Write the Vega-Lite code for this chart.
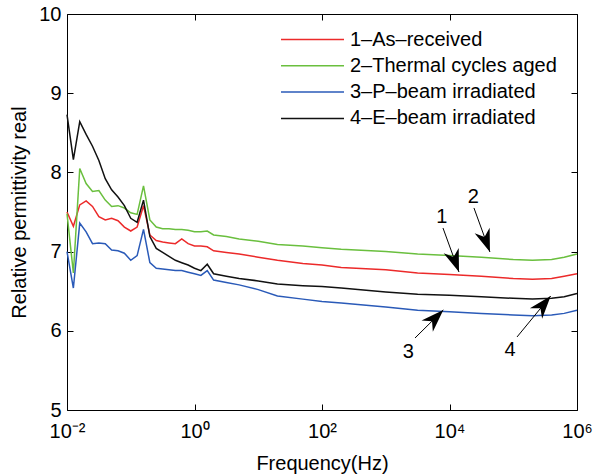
{
  "$schema": "https://vega.github.io/schema/vega-lite/v6.json",
  "width": 510,
  "height": 396,
  "autosize": "none",
  "padding": {"left": 67, "top": 14, "right": 16, "bottom": 65},
  "background": "white",
  "config": {
    "font": "Liberation Sans",
    "view": {"stroke": "#000", "strokeWidth": 1},
    "axis": {"grid": false, "domain": false, "tickColor": "#000", "tickWidth": 1, "labelColor": "#000", "titleColor": "#000", "labelFontSize": 20, "titleFontSize": 20, "titleFontWeight": "normal", "labelFlush": false, "labelOverlap": false}
  },
  "datasets": {
    "curves": [
      {"f": 0.01, "1–As–received": 7.50, "2–Thermal cycles aged": 7.48, "3–P–beam irradiated": 7.00, "4–E–beam irradiated": 8.73},
      {"f": 0.01259, "1–As–received": 7.32, "2–Thermal cycles aged": 6.73, "3–P–beam irradiated": 6.54, "4–E–beam irradiated": 8.16},
      {"f": 0.01585, "1–As–received": 7.59, "2–Thermal cycles aged": 8.05, "3–P–beam irradiated": 7.36, "4–E–beam irradiated": 8.64},
      {"f": 0.01995, "1–As–received": 7.64, "2–Thermal cycles aged": 7.86, "3–P–beam irradiated": 7.25, "4–E–beam irradiated": 8.48},
      {"f": 0.02512, "1–As–received": 7.57, "2–Thermal cycles aged": 7.76, "3–P–beam irradiated": 7.10, "4–E–beam irradiated": 8.33},
      {"f": 0.03162, "1–As–received": 7.44, "2–Thermal cycles aged": 7.77, "3–P–beam irradiated": 7.11, "4–E–beam irradiated": 8.15},
      {"f": 0.03981, "1–As–received": 7.40, "2–Thermal cycles aged": 7.65, "3–P–beam irradiated": 7.10, "4–E–beam irradiated": 7.92},
      {"f": 0.05012, "1–As–received": 7.42, "2–Thermal cycles aged": 7.57, "3–P–beam irradiated": 7.02, "4–E–beam irradiated": 7.78},
      {"f": 0.0631, "1–As–received": 7.39, "2–Thermal cycles aged": 7.58, "3–P–beam irradiated": 7.01, "4–E–beam irradiated": 7.69},
      {"f": 0.07943, "1–As–received": 7.31, "2–Thermal cycles aged": 7.55, "3–P–beam irradiated": 6.98, "4–E–beam irradiated": 7.58},
      {"f": 0.1, "1–As–received": 7.26, "2–Thermal cycles aged": 7.49, "3–P–beam irradiated": 6.89, "4–E–beam irradiated": 7.42},
      {"f": 0.1259, "1–As–received": 7.31, "2–Thermal cycles aged": 7.47, "3–P–beam irradiated": 6.95, "4–E–beam irradiated": 7.37},
      {"f": 0.1585, "1–As–received": 7.58, "2–Thermal cycles aged": 7.83, "3–P–beam irradiated": 7.28, "4–E–beam irradiated": 7.65},
      {"f": 0.1995, "1–As–received": 7.21, "2–Thermal cycles aged": 7.40, "3–P–beam irradiated": 6.86, "4–E–beam irradiated": 7.19},
      {"f": 0.2512, "1–As–received": 7.14, "2–Thermal cycles aged": 7.31, "3–P–beam irradiated": 6.79, "4–E–beam irradiated": 7.04},
      {"f": 0.3162, "1–As–received": 7.12, "2–Thermal cycles aged": 7.29, "3–P–beam irradiated": 6.78, "4–E–beam irradiated": 6.99},
      {"f": 0.3981, "1–As–received": 7.11, "2–Thermal cycles aged": 7.29, "3–P–beam irradiated": 6.77, "4–E–beam irradiated": 6.94},
      {"f": 0.5012, "1–As–received": 7.10, "2–Thermal cycles aged": 7.28, "3–P–beam irradiated": 6.76, "4–E–beam irradiated": 6.89},
      {"f": 0.631, "1–As–received": 7.16, "2–Thermal cycles aged": 7.28, "3–P–beam irradiated": 6.76, "4–E–beam irradiated": 6.86},
      {"f": 0.7943, "1–As–received": 7.10, "2–Thermal cycles aged": 7.27, "3–P–beam irradiated": 6.74, "4–E–beam irradiated": 6.83},
      {"f": 1, "1–As–received": 7.07, "2–Thermal cycles aged": 7.25, "3–P–beam irradiated": 6.72, "4–E–beam irradiated": 6.79},
      {"f": 1.259, "1–As–received": 7.07, "2–Thermal cycles aged": 7.25, "3–P–beam irradiated": 6.70, "4–E–beam irradiated": 6.76},
      {"f": 1.585, "1–As–received": 7.06, "2–Thermal cycles aged": 7.26, "3–P–beam irradiated": 6.76, "4–E–beam irradiated": 6.84},
      {"f": 1.995, "1–As–received": 7.01, "2–Thermal cycles aged": 7.21, "3–P–beam irradiated": 6.64, "4–E–beam irradiated": 6.72},
      {"f": 3.162, "1–As–received": 6.99, "2–Thermal cycles aged": 7.19, "3–P–beam irradiated": 6.61, "4–E–beam irradiated": 6.69},
      {"f": 5.012, "1–As–received": 6.97, "2–Thermal cycles aged": 7.16, "3–P–beam irradiated": 6.58, "4–E–beam irradiated": 6.66},
      {"f": 10, "1–As–received": 6.93, "2–Thermal cycles aged": 7.13, "3–P–beam irradiated": 6.52, "4–E–beam irradiated": 6.63},
      {"f": 20, "1–As–received": 6.89, "2–Thermal cycles aged": 7.09, "3–P–beam irradiated": 6.44, "4–E–beam irradiated": 6.59},
      {"f": 50, "1–As–received": 6.85, "2–Thermal cycles aged": 7.07, "3–P–beam irradiated": 6.40, "4–E–beam irradiated": 6.57},
      {"f": 100, "1–As–received": 6.83, "2–Thermal cycles aged": 7.05, "3–P–beam irradiated": 6.37, "4–E–beam irradiated": 6.56},
      {"f": 200, "1–As–received": 6.80, "2–Thermal cycles aged": 7.03, "3–P–beam irradiated": 6.35, "4–E–beam irradiated": 6.54},
      {"f": 1000, "1–As–received": 6.77, "2–Thermal cycles aged": 7.00, "3–P–beam irradiated": 6.30, "4–E–beam irradiated": 6.49},
      {"f": 3162, "1–As–received": 6.73, "2–Thermal cycles aged": 6.97, "3–P–beam irradiated": 6.26, "4–E–beam irradiated": 6.46},
      {"f": 10000, "1–As–received": 6.71, "2–Thermal cycles aged": 6.95, "3–P–beam irradiated": 6.24, "4–E–beam irradiated": 6.45},
      {"f": 31620, "1–As–received": 6.69, "2–Thermal cycles aged": 6.93, "3–P–beam irradiated": 6.22, "4–E–beam irradiated": 6.43},
      {"f": 100000, "1–As–received": 6.66, "2–Thermal cycles aged": 6.90, "3–P–beam irradiated": 6.20, "4–E–beam irradiated": 6.41},
      {"f": 200000, "1–As–received": 6.65, "2–Thermal cycles aged": 6.89, "3–P–beam irradiated": 6.19, "4–E–beam irradiated": 6.40},
      {"f": 400000, "1–As–received": 6.66, "2–Thermal cycles aged": 6.90, "3–P–beam irradiated": 6.20, "4–E–beam irradiated": 6.41},
      {"f": 630000, "1–As–received": 6.69, "2–Thermal cycles aged": 6.93, "3–P–beam irradiated": 6.22, "4–E–beam irradiated": 6.43},
      {"f": 1000000, "1–As–received": 6.72, "2–Thermal cycles aged": 6.97, "3–P–beam irradiated": 6.26, "4–E–beam irradiated": 6.47}
    ],
    "arrows": [
      {"n": "1", "lx": 7550, "ly": 7.44, "x1": 7907, "y1": 7.298, "x2": 14100, "y2": 6.742, "a": 160},
      {"n": "2", "lx": 23650, "ly": 7.693, "x1": 24200, "y1": 7.551, "x2": 43100, "y2": 6.995, "a": 160},
      {"n": "3", "lx": 2259, "ly": 5.736, "x1": 2877, "y1": 5.909, "x2": 8000, "y2": 6.263, "a": 45},
      {"n": "4", "lx": 88900, "ly": 5.758, "x1": 114600, "y1": 5.922, "x2": 386500, "y2": 6.439, "a": 40}
    ]
  },
  "resolve": {"axis": {"x": "independent", "y": "independent"}},
  "layer": [
    {
      "data": {"name": "curves"},
      "transform": [{"fold": ["1–As–received", "2–Thermal cycles aged", "3–P–beam irradiated", "4–E–beam irradiated"], "as": ["series", "value"]}],
      "mark": {"type": "line", "strokeWidth": 1.5},
      "encoding": {
        "x": {"field": "f", "type": "quantitative", "scale": {"type": "log", "domain": [0.01, 1000000], "nice": false},
              "axis": {"orient": "bottom", "values": [0.01, 1, 100, 10000, 1000000], "tickSize": -6, "labelPadding": 17,
                       "labelExpr": "datum.value < 0.1 ? '10⁻²' : datum.value < 10 ? '10⁰' : datum.value < 1000 ? '10²' : datum.value < 100000 ? '10⁴' : '10⁶'",
                       "title": "Frequency(Hz)", "titlePadding": 12}},
        "y": {"field": "value", "type": "quantitative", "scale": {"domain": [5, 10], "nice": false, "zero": false},
              "axis": {"orient": "left", "values": [5, 6, 7, 8, 9, 10], "tickSize": -6, "labelPadding": 12, "title": "Relative permittivity real", "titlePadding": 9}},
        "color": {"field": "series", "type": "nominal",
                  "scale": {"domain": ["1–As–received", "2–Thermal cycles aged", "3–P–beam irradiated", "4–E–beam irradiated"], "range": ["#ec2a2a", "#6abf3e", "#2a5ab8", "#111111"]},
                  "legend": {"orient": "none", "legendX": 234, "legendY": 14, "title": null, "symbolType": "M-3,0H3", "symbolSize": 441, "symbolStrokeWidth": 1.5, "labelFontSize": 20, "labelOffset": 26, "rowPadding": 4.3, "padding": 0, "labelLimit": 400, "labelColor": "#000"}}
      }
    },
    {
      "data": {"name": "arrows"},
      "mark": {"type": "rule", "color": "#000", "strokeWidth": 1},
      "encoding": {
        "x": {"field": "x1", "type": "quantitative", "axis": {"orient": "top", "values": [0.01, 1, 100, 10000, 1000000], "tickSize": -6, "labels": false, "title": null}},
        "y": {"field": "y1", "type": "quantitative", "axis": {"orient": "right", "values": [5, 6, 7, 8, 9, 10], "tickSize": -6, "labels": false, "title": null}},
        "x2": {"field": "x2"},
        "y2": {"field": "y2"}
      }
    },
    {
      "data": {"name": "arrows"},
      "mark": {"type": "point", "filled": true, "color": "#000", "opacity": 1, "size": 520, "shape": "M0,0L0.7,2L0,1.4L-0.7,2Z"},
      "encoding": {
        "x": {"field": "x2", "type": "quantitative", "axis": null},
        "y": {"field": "y2", "type": "quantitative", "axis": null},
        "angle": {"field": "a", "type": "quantitative", "scale": null}
      }
    },
    {
      "data": {"name": "arrows"},
      "mark": {"type": "text", "fontSize": 20, "align": "center", "baseline": "middle", "color": "#000"},
      "encoding": {
        "x": {"field": "lx", "type": "quantitative", "axis": null},
        "y": {"field": "ly", "type": "quantitative", "axis": null},
        "text": {"field": "n"}
      }
    }
  ]
}
